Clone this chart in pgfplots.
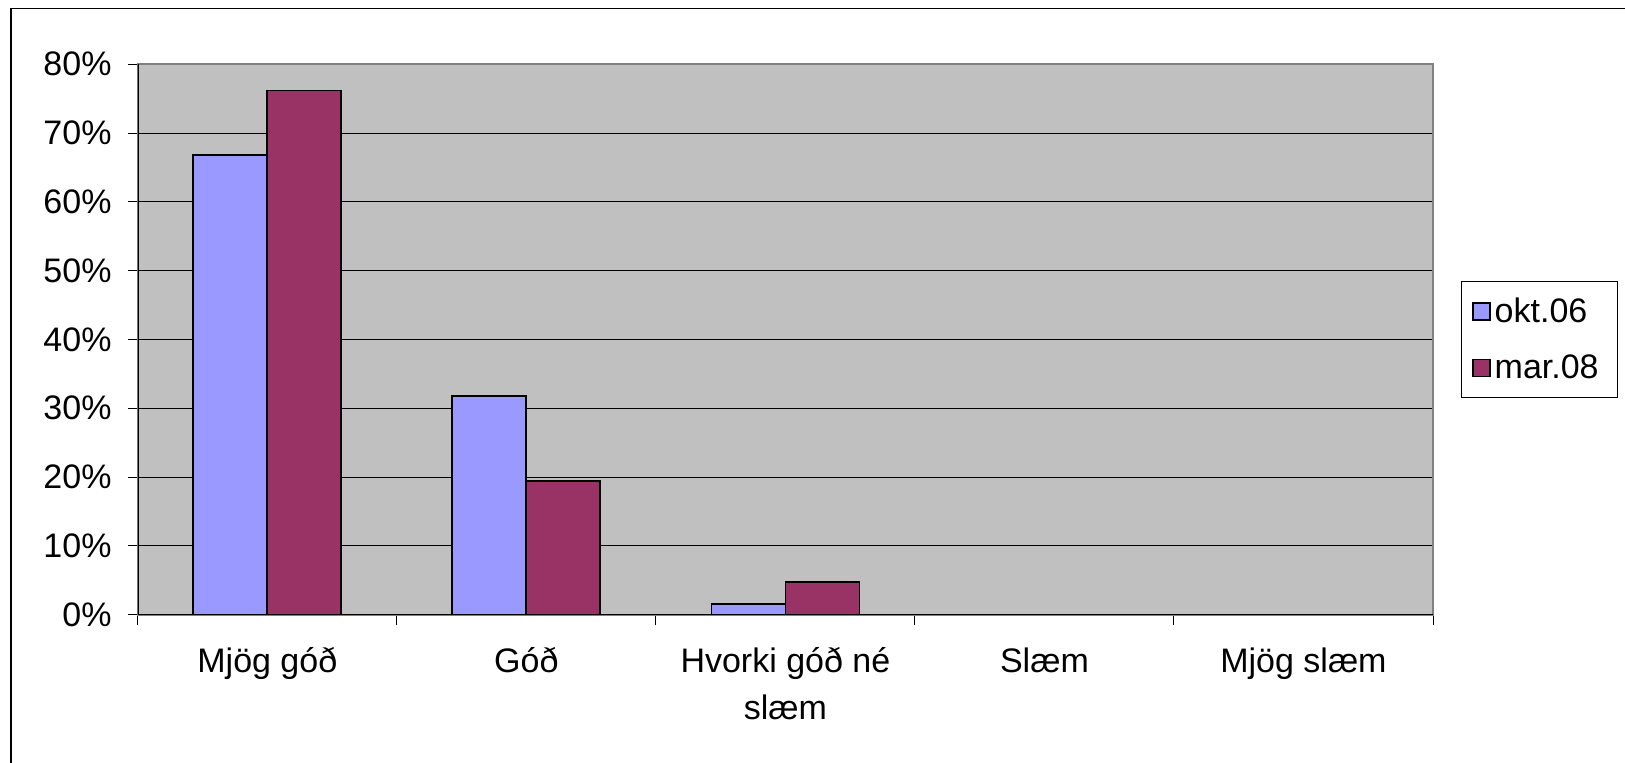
\documentclass[border=0pt]{standalone}
\usepackage{fontspec}
\setmainfont{Liberation Sans}
\usepackage{pgfplots}
\pgfplotsset{compat=1.18}
\definecolor{okt}{HTML}{9999FF}
\definecolor{mar}{HTML}{993366}
\definecolor{plotbg}{HTML}{C0C0C0}
\definecolor{bordergray}{HTML}{808080}
\begin{document}
\begin{tikzpicture}
\useasboundingbox (0,0) rectangle (812.5pt,381.5pt);
\draw[line width=0.8pt] (5.4pt,-20pt) rectangle (840pt,377.3pt);
\begin{axis}[
  at={(68.9pt,74.15pt)}, anchor=south west,
  width=647.6pt, height=275.2pt, scale only axis,
  ybar=0pt, bar width=0.2857,
  xmin=-0.5, xmax=4.5, ymin=0, ymax=80,
  xtick={-0.5,0.5,1.5,2.5,3.5,4.5},
  xticklabels={Mjög góð, Góð, {Hvorki góð né\\slæm}, Slæm, Mjög slæm},
  x tick label as interval,
  ytick={0,10,20,30,40,50,60,70,80},
  yticklabels={0\%,10\%,20\%,30\%,40\%,50\%,60\%,70\%,80\%},
  tick align=outside, major tick length=5pt, tick pos=left,
  tick style={black, line width=0.5pt},
  ymajorgrids, major grid style={black, line width=0.5pt},
  axis background/.style={fill=plotbg},
  axis line style={draw=bordergray, line width=1pt},
  tick label style={font=\fontsize{17}{23.5}\selectfont},
  xticklabel style={align=center, yshift=-8pt},
  yticklabel style={xshift=-4.6pt},
  legend style={at={(1.0213,0.6056)}, anchor=north west, draw=black, line width=0.5pt,
    font=\fontsize{17}{20}\selectfont, inner xsep=5.5pt, inner ysep=5.8pt, row sep=10.8pt,
    cells={anchor=west},
    /tikz/every even column/.append style={column sep=3pt}},
  legend image code/.code={\draw[#1, line width=0.8pt] (0pt,-4.25pt) rectangle (8.5pt,4.25pt);},
]
\addplot[fill=okt, draw=black, line width=0.9pt] coordinates {(0,66.8) (1,31.8) (2,1.6) (3,0) (4,0)};
\addplot[fill=mar, draw=black, line width=0.9pt] coordinates {(0,76.2) (1,19.4) (2,4.7) (3,0) (4,0)};
\legend{okt.06, mar.08\hspace*{2pt}}
\draw[black, line width=0.8pt] (rel axis cs:0,1) -- (rel axis cs:0,0) -- (rel axis cs:1,0);
\end{axis}
\end{tikzpicture}
\end{document}
